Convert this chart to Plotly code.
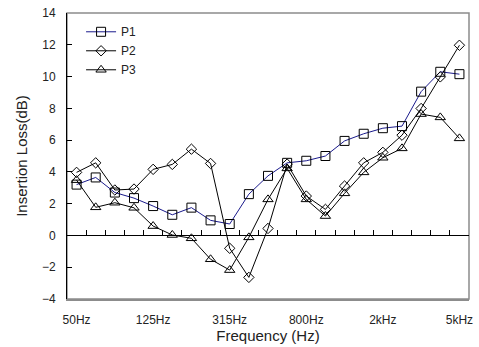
import plotly.graph_objects as go

# 1/3-octave band centre frequencies
bands = ["50Hz", "63Hz", "80Hz", "100Hz", "125Hz", "160Hz", "200Hz", "250Hz",
         "315Hz", "400Hz", "500Hz", "630Hz", "800Hz", "1kHz", "1.25kHz", "1.6kHz",
         "2kHz", "2.5kHz", "3.15kHz", "4kHz", "5kHz"]
tick_labels = ["50Hz", "125Hz", "315Hz", "800Hz", "2kHz", "5kHz"]

p1 = [3.2, 3.65, 2.7, 2.35, 1.85, 1.3, 1.75, 0.95, 0.72, 2.6, 3.75,
      4.57, 4.7, 5.0, 5.95, 6.4, 6.75, 6.88, 9.05, 10.3, 10.15]
p2 = [3.97, 4.57, 2.86, 2.92, 4.16, 4.47, 5.43, 4.53, -0.81, -2.64, 0.44,
      4.49, 2.48, 1.64, 3.11, 4.57, 5.23, 6.31, 7.99, 9.98, 11.97]
p3 = [3.48, 1.77, 2.06, 1.74, 0.59, 0.03, -0.18, -1.5, -2.18, -0.12, 2.27,
      4.22, 2.27, 1.22, 2.65, 3.97, 4.89, 5.48, 7.64, 7.43, 6.11]

series = [
    ("P1", p1, "#1a1a8c", "square-open", 9),
    ("P2", p2, "#000000", "diamond-open", 8),
    ("P3", p3, "#000000", "triangle-up-open", 9),
]

idx = list(range(len(bands)))
fig = go.Figure()
for name, vals, col, sym, size in series:
    fig.add_trace(go.Scatter(
        x=idx, y=vals, name=name, mode="lines+markers",
        line=dict(color=col, width=1),
        marker=dict(symbol=sym, size=size, color="#000000",
                    line=dict(width=1, color="#000000")),
    ))

# invisible trace so the zero-line category axis is drawn
fig.add_trace(go.Scatter(x=[0], y=[0], xaxis="x2", mode="markers",
                         marker=dict(opacity=0), showlegend=False,
                         hoverinfo="skip"))

font = "Liberation Sans, Arial, sans-serif"
xr = [-0.5, len(bands) - 0.5]
fig.update_layout(
    width=479, height=347,
    margin=dict(l=67, r=10, t=13, b=48, autoexpand=False),
    paper_bgcolor="white", plot_bgcolor="white",
    font=dict(family=font, color="#222222", size=12),
    showlegend=True,
    legend=dict(x=0.035, y=0.985, xanchor="left", yanchor="top",
                bgcolor="rgba(0,0,0,0)", font=dict(size=12, color="#222222"),
                itemwidth=30, tracegroupgap=0),
    xaxis=dict(range=xr, tickmode="array", automargin=False,
               tickvals=[bands.index(t) for t in tick_labels],
               ticktext=tick_labels, ticks="", showgrid=False, zeroline=False,
               showline=True, linecolor="#8c8c8c", linewidth=1.5,
               tickfont=dict(size=12), ticklabelstandoff=9,
               title=dict(text="Frequency (Hz)", font=dict(size=15),
                          standoff=2)),
    xaxis2=dict(range=xr, overlaying="x", anchor="free",
                position=4 / 18, side="bottom", showline=True,
                linecolor="#000000", linewidth=1, ticks="inside",
                ticklen=5, tickcolor="#000000",
                tickvals=[i + 0.5 for i in range(-1, len(bands))],
                showticklabels=False, showgrid=False, zeroline=False),
    yaxis=dict(range=[-4, 14], dtick=2, tickmode="linear", automargin=False,
               showgrid=False, zeroline=False, showline=True,
               linecolor="#000000", linewidth=1, ticks="inside",
               ticklen=5, tickcolor="#000000", tickfont=dict(size=12),
               ticklabelstandoff=8,
               title=dict(text="Insertion Loss(dB)", font=dict(size=15),
                          standoff=10)),
    shapes=[dict(type="rect", xref="paper", yref="paper", x0=0, x1=1,
                 y0=0, y1=1, line=dict(color="#8c8c8c", width=1.5),
                 layer="below")],
)

fig.write_html("out.html")
